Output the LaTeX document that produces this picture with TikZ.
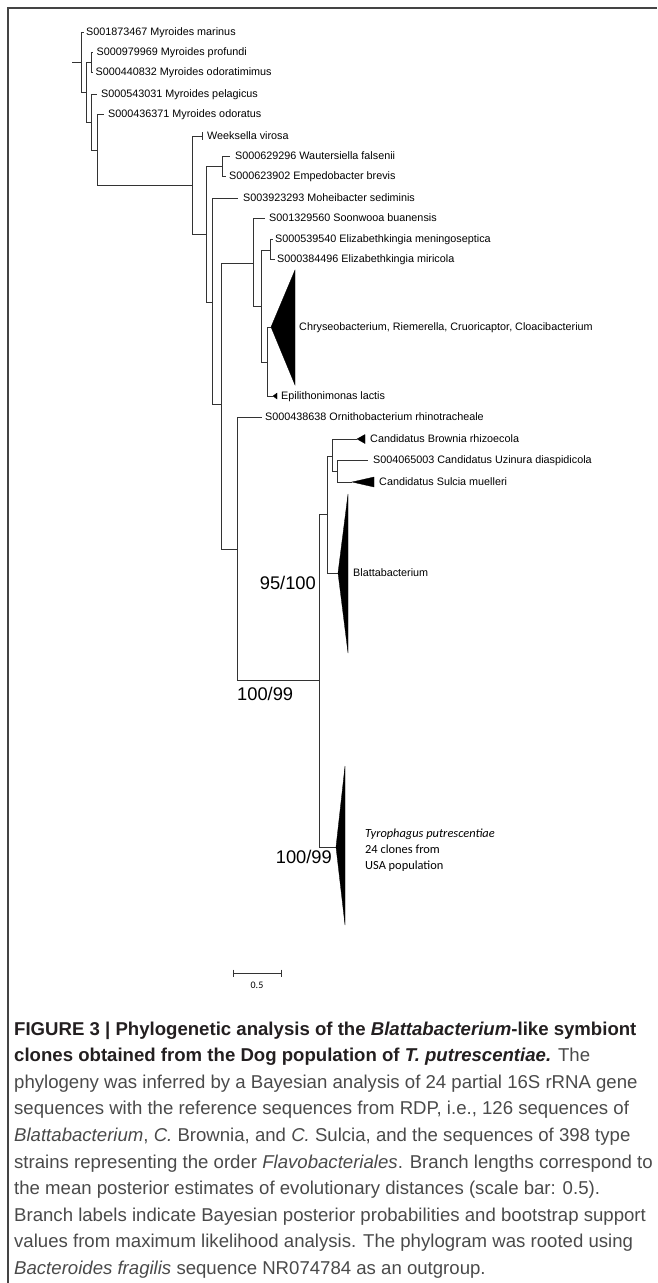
\documentclass[tikz,border=0pt]{standalone}
\usepackage{fontspec}
\setmainfont{Liberation Sans}
\newfontfamily\calibri{Carlito}
\definecolor{capgray}{HTML}{4A4A4A}
\definecolor{capdark}{HTML}{231F20}
\definecolor{framecol}{HTML}{444444}
\definecolor{treecol}{HTML}{333333}
\begin{document}
\begin{tikzpicture}[x=1pt,y=-1pt,
  br/.style={draw=treecol, line width=0.9pt},
  clade/.style={fill=black, draw=black, line width=0.3pt, line join=miter},
  lab/.style={font=\fontsize{10.8}{12}\selectfont, inner sep=0pt, anchor=base west, text=black},
  supp/.style={font=\fontsize{18.3}{20}\selectfont, inner sep=0pt, text=black},
  tyro/.style={font=\calibri\fontsize{12.4}{14}\selectfont, inner sep=0pt, anchor=base west, text=black},
  capline/.style={font=\fontsize{18.6}{22}\selectfont, inner sep=0pt, anchor=base west, text=capgray},
  frameline/.style={draw=framecol, line width=1.3pt},
]
\useasboundingbox (0,0) rectangle (657,1283);
% frame
\draw[frameline] (8,1283) -- (8,8) -- (657,8);

% ---------- tree coordinates ----------
\coordinate (r) at (72,62);
\coordinate (n1) at (81,62);
\coordinate (n2) at (86,92);
\coordinate (n3) at (91,62);
\coordinate (n4) at (91,122);
\coordinate (n5) at (97,150);
\coordinate (n6) at (192,185);
\coordinate (n7) at (206,234);
\coordinate (n8) at (222,166);
\coordinate (n9) at (212,302);
\coordinate (n10) at (221,404);
\coordinate (n11) at (253,263);
\coordinate (n12) at (261,306);
\coordinate (n13) at (270,250);
\coordinate (n14) at (267,362);
\coordinate (n15) at (237,549);
\coordinate (n16) at (319,680);
\coordinate (n17) at (327,514);
\coordinate (n18) at (332,456);
\coordinate (n19) at (337,471);
% tips
\coordinate (tmar) at (84,32);
\coordinate (tpro) at (93,52);
\coordinate (todm) at (93,72);
\coordinate (tpel) at (97,94);
\coordinate (todo) at (104,114);
\coordinate (twee) at (202,136);
\coordinate (twau) at (230,156);
\coordinate (temp) at (226,176);
\coordinate (tmoh) at (238,198);
\coordinate (tsoo) at (265,218);
\coordinate (tmen) at (273,239);
\coordinate (tmir) at (275,259);
\coordinate (tchr) at (271,327);
\coordinate (tepi) at (273,396);
\coordinate (torn) at (262,417);
\coordinate (tbro) at (357,439);
\coordinate (tuzi) at (368,460);
\coordinate (tsul) at (352,482);
\coordinate (tbla) at (338,573);
\coordinate (ttyr) at (336,847);

% ---------- branches ----------
\draw[br] (r) -- (n1);
\draw[br] (n1) |- (tmar);
\draw[br] (n1) |- (n2);
\draw[br] (n2) |- (n3);
\draw[br] (n2) |- (n4);
\draw[br] (n3) |- (tpro);
\draw[br] (n3) |- (todm);
\draw[br] (n4) |- (tpel);
\draw[br] (n4) |- (n5);
\draw[br] (n5) |- (todo);
\draw[br] (n5) |- (n6);
\draw[br] (n6) |- (twee);
\draw[br] (n6) |- (n7);
\draw[br] (n7) |- (n8);
\draw[br] (n7) |- (n9);
\draw[br] (n8) |- (twau);
\draw[br] (n8) |- (temp);
\draw[br] (n9) |- (tmoh);
\draw[br] (n9) |- (n10);
\draw[br] (n10) |- (n11);
\draw[br] (n10) |- (n15);
\draw[br] (n11) |- (tsoo);
\draw[br] (n11) |- (n12);
\draw[br] (n12) |- (n13);
\draw[br] (n12) |- (n14);
\draw[br] (n13) |- (tmen);
\draw[br] (n13) |- (tmir);
\draw[br] (n14) |- (tchr);
\draw[br] (n14) |- (tepi);
\draw[br] (n15) |- (torn);
\draw[br] (n15) |- (n16);
\draw[br] (n16) |- (n17);
\draw[br] (n16) |- (ttyr);
\draw[br] (n17) |- (n18);
\draw[br] (n17) |- (tbla);
\draw[br] (n18) |- (tbro);
\draw[br] (n18) |- (n19);
\draw[br] (n19) |- (tuzi);
\draw[br] (n19) |- (tsul);

% collapsed clades
\draw[br] ([yshift=4pt]twee) -- ([yshift=-4pt]twee);
\draw[clade] (tchr) -- ++(24,-57) -- ++(0,115) -- cycle;
\draw[clade] (tepi) -- ++(4,-3) -- ++(0,6) -- cycle;
\draw[clade] (tbro) -- ++(8,-4.5) -- ++(0,9) -- cycle;
\draw[clade] (tsul) -- ++(22,-5) -- ++(0,10) -- cycle;
\draw[clade] (tbla) -- ++(10,-79) -- ++(0,159) -- cycle;
\draw[clade] (ttyr) -- ++(9,-81) -- ++(0,159) -- cycle;

% ---------- tip labels ----------
\node[lab] (lmar) at (86,35.9) {S001873467 Myroides marinus};
\node[lab] (lpro) at (96.5,55.9) {S000979969 Myroides profundi};
\node[lab] (lodm) at (95.5,75.9) {S000440832 Myroides odoratimimus};
\node[lab] (lpel) at (101,97.9) {S000543031 Myroides pelagicus};
\node[lab] (lodo) at (108,117.9) {S000436371 Myroides odoratus};
\node[lab] (lwee) at (207,139.9) {Weeksella virosa};
\node[lab] (lwau) at (235,159.9) {S000629296 Wautersiella falsenii};
\node[lab] (lemp) at (229,179.9) {S000623902 Empedobacter brevis};
\node[lab] (lmoh) at (243,201.9) {S003923293 Moheibacter sediminis};
\node[lab] (lsoo) at (269,221.9) {S001329560 Soonwooa buanensis};
\node[lab] (lmen) at (275,242.9) {S000539540 Elizabethkingia meningoseptica};
\node[lab] (lmir) at (277,262.9) {S000384496 Elizabethkingia miricola};
\node[lab] (lchr) at (299,330.9) {Chryseobacterium, Riemerella, Cruoricaptor, Cloacibacterium};
\node[lab] (lepi) at (281,399.9) {Epilithonimonas lactis};
\node[lab] (lorn) at (265,420.9) {S000438638 Ornithobacterium rhinotracheale};
\node[lab] (lbro) at (370,442.9) {Candidatus Brownia rhizoecola};
\node[lab] (luzi) at (373,463.9) {S004065003 Candidatus Uzinura diaspidicola};
\node[lab] (lsul) at (379,485.9) {Candidatus Sulcia muelleri};
\node[lab] (lbla) at (353,576.9) {Blattabacterium};
\node[tyro] (ltyr1) at (365,837.2) {\itshape Tyrophagus putrescentiae};
\node[tyro] (ltyr2) at (365,853.2) {24 clones from};
\node[tyro] (ltyr3) at (365,869.2) {USA population};

% ---------- support values ----------
\node[supp, anchor=base west] (s1) at (237,700.5) {100/99};
\node[supp, anchor=base east] (s2) at (316,589.5) {95/100};
\node[supp, anchor=base east] (s3) at (332,863.5) {100/99};

% ---------- scale bar ----------
\coordinate (sb1) at (233,973);
\coordinate (sb2) at (281,973);
\draw[br] (sb1) -- (sb2);
\draw[br] ([yshift=3.5pt]sb1) -- ([yshift=-3.5pt]sb1);
\draw[br] ([yshift=3.5pt]sb2) -- ([yshift=-3.5pt]sb2);
\node[font=\calibri\fontsize{10}{11}\selectfont, inner sep=0pt] (sbl) at (257,985) {0.5};

% ---------- caption ----------
\node[capline, text=capdark] (c1) at (14,1035) {\bfseries FIGURE 3 | Phylogenetic analysis of the \textit{Blattabacterium}-like symbiont};
\node[capline] (c2) at (14,1061.6) {{\color{capdark}\bfseries clones obtained from the Dog population of \textit{T. putrescentiae.}} The};
\node[capline] (c3) at (14,1088.2) {phylogeny was inferred by a Bayesian analysis of 24 partial 16S rRNA gene};
\node[capline] (c4) at (14,1114.8) {sequences with the reference sequences from RDP, i.e., 126 sequences of};
\node[capline] (c5) at (14,1141.4) {\textit{Blattabacterium}, \textit{C.} Brownia, and \textit{C.} Sulcia, and the sequences of 398 type};
\node[capline] (c6) at (14,1168) {strains representing the order \textit{Flavobacteriales}. Branch lengths correspond to};
\node[capline] (c7) at (14,1194.6) {the mean posterior estimates of evolutionary distances (scale bar: 0.5).};
\node[capline] (c8) at (14,1221.2) {Branch labels indicate Bayesian posterior probabilities and bootstrap support};
\node[capline] (c9) at (14,1247.8) {values from maximum likelihood analysis. The phylogram was rooted using};
\node[capline] (c10) at (14,1274.4) {\textit{Bacteroides fragilis} sequence NR074784 as an outgroup.};
\end{tikzpicture}
\end{document}
